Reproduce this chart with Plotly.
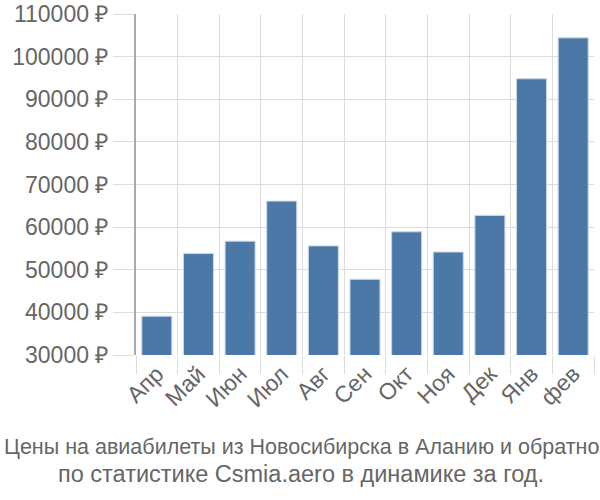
import plotly.graph_objects as go

months = ["Апр", "Май", "Июн", "Июл", "Авг", "Сен", "Окт", "Ноя", "Дек", "Янв", "фев"]
prices = [39100, 53800, 56700, 66100, 55600, 47750, 58900, 54150, 62750, 94800, 104400]
y_ticks = [30000, 40000, 50000, 60000, 70000, 80000, 90000, 100000, 110000]
y_tick_labels = [f"{v} ₽" for v in y_ticks]
title_line1 = "Цены на авиабилеты из Новосибирска в Аланию и обратно"
title_line2 = "по статистике Csmia.aero в динамике за год."

font_family = "Liberation Sans, Arial, sans-serif"

L, R, T, B = 136, 6, 14, 145
W, H = 600, 500
pw, ph = W - L - R, H - T - B


def px_to_paper_x(px):
    return (px - L) / pw


def px_to_paper_y(py):
    return 1 - (py - T) / ph


fig = go.Figure(go.Bar(
    x=months, y=prices,
    marker=dict(color="#4c78a8", line=dict(color="#c9d6e6", width=1)),
))

fig.update_layout(
    width=W, height=H,
    margin=dict(l=L, r=R, t=T, b=B, autoexpand=False),
    plot_bgcolor="white", paper_bgcolor="white",
    bargap=0.28,
    showlegend=False,
    font=dict(family=font_family, color="#666666"),
    annotations=[
        dict(text=title_line1, x=px_to_paper_x(301), y=px_to_paper_y(447),
             xref="paper", yref="paper", xanchor="center", yanchor="middle", showarrow=False,
             font=dict(size=21.5, color="#666666", family=font_family)),
        dict(text=title_line2, x=px_to_paper_x(301), y=px_to_paper_y(474),
             xref="paper", yref="paper", xanchor="center", yanchor="middle", showarrow=False,
             font=dict(size=23.5, color="#666666", family=font_family)),
    ],
)

fig.update_xaxes(
    type="category", tickson="boundaries", showgrid=True, gridcolor="#dddddd", gridwidth=1,
    ticks="outside", ticklen=18, tickcolor="#dddddd", tickangle=-45,
    tickfont=dict(size=23, color="#666666"), showline=False, zeroline=False,
    automargin=False,
)
fig.update_yaxes(
    range=[30000, 110000], tickvals=y_ticks, ticktext=y_tick_labels,
    showgrid=True, gridcolor="#dddddd", gridwidth=1,
    ticks="outside", ticklen=21, tickcolor="#dddddd",
    tickfont=dict(size=23, color="#666666"),
    showline=True, linecolor="#aaaaaa", linewidth=2, zeroline=False,
    automargin=False,
)

fig.write_html("out.html")
